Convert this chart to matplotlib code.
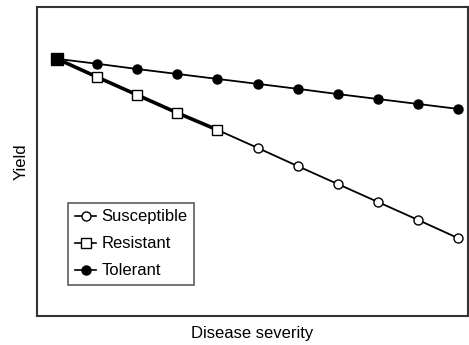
import matplotlib.pyplot as plt

plt.rcParams['font.family'] = ['Liberation Sans', 'DejaVu Sans']

# disease severity steps
severity = list(range(11))
# yield values (arbitrary units)
susceptible = [83.2, 77.3, 71.5, 65.7, 60.2, 54.4, 48.5, 42.7, 36.9, 31.1, 25.2]
resistant = [83.2, 77.3, 71.5, 65.7, 60.2]
tolerant = [83.2, 81.6, 79.9, 78.3, 76.7, 75.1, 73.5, 71.8, 70.2, 68.6, 67.0]

fig = plt.figure(figsize=(4.69, 3.45), dpi=100)
ax = fig.add_axes([0.079, 0.084, 0.919, 0.896])

ax.plot(severity, susceptible, color="black", lw=1.3, marker="o",
        markersize=6.5, markerfacecolor="white", markeredgecolor="black",
        markeredgewidth=1.0, label="Susceptible", zorder=2)
ax.plot(severity[:len(resistant)], resistant, color="black", lw=2.6,
        marker="s", markersize=7, markerfacecolor="white",
        markeredgecolor="black", markeredgewidth=1.0, label="Resistant",
        zorder=3)
ax.plot(severity, tolerant, color="black", lw=1.3, marker="o",
        markersize=6.5, markerfacecolor="black", markeredgecolor="black",
        label="Tolerant", zorder=4)
# the shared start point shows as a solid block in the original
ax.plot(severity[0], resistant[0], marker="s", markersize=8,
        color="black", zorder=5)

ax.set_xlim(-0.5, 10.25)
ax.set_ylim(0, 100)
ax.set_xticks([])
ax.set_yticks([])
for s in ax.spines.values():
    s.set_linewidth(1.5)
    s.set_color("#333333")

ax.set_xlabel("Disease severity", fontsize=12, labelpad=7)
ax.set_ylabel("Yield", fontsize=12, labelpad=6)

leg = ax.legend(loc="lower left", bbox_to_anchor=(0.072, 0.1),
                fontsize=12, frameon=True, fancybox=False,
                handlelength=1.3, handletextpad=0.3, borderpad=0.4,
                labelspacing=0.72, borderaxespad=0)
leg.get_frame().set_edgecolor("#333333")
leg.get_frame().set_linewidth(1.2)
for h in leg.legend_handles:
    h.set_linewidth(1.2)

plt.savefig("out.png", dpi=100)
